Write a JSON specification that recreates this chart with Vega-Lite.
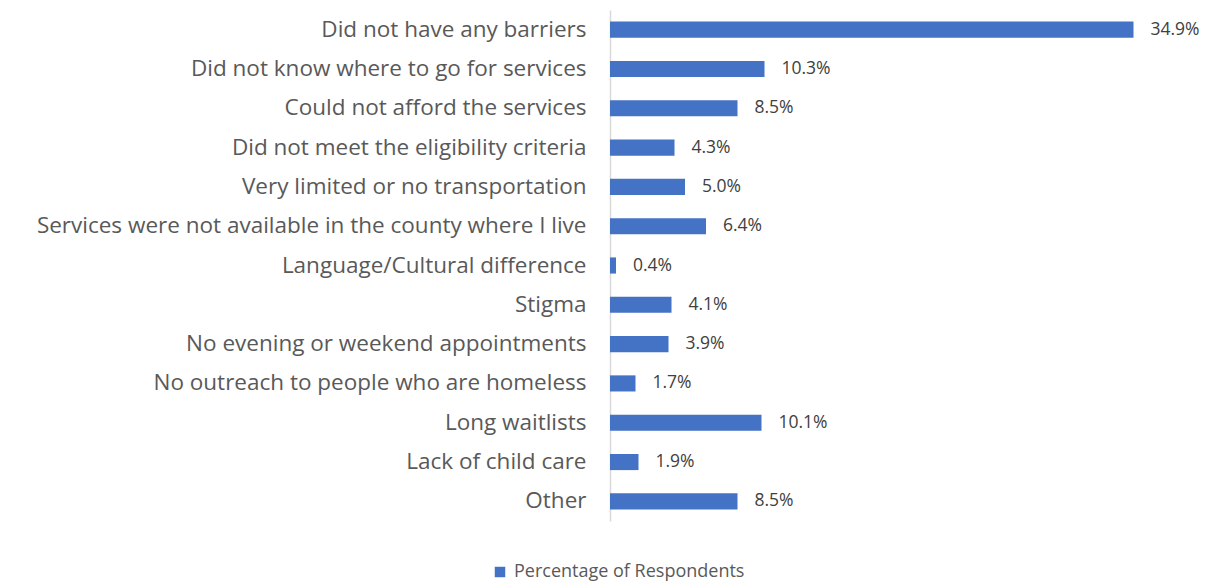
{
  "$schema": "https://vega.github.io/schema/vega-lite/v6.json",
  "width": 600,
  "height": 511,
  "autosize": {"type": "none"},
  "padding": {"left": 610, "top": 10, "right": 2, "bottom": 60},
  "background": "white",
  "config": {"view": {"stroke": null}, "font": "Open Sans"},
  "data": {
    "values": [
      {"barrier": "Did not have any barriers", "pct": 34.9},
      {"barrier": "Did not know where to go for services", "pct": 10.3},
      {"barrier": "Could not afford the services", "pct": 8.5},
      {"barrier": "Did not meet the eligibility criteria", "pct": 4.3},
      {"barrier": "Very limited or no transportation", "pct": 5.0},
      {"barrier": "Services were not available in the county where I live", "pct": 6.4},
      {"barrier": "Language/Cultural difference", "pct": 0.4},
      {"barrier": "Stigma", "pct": 4.1},
      {"barrier": "No evening or weekend appointments", "pct": 3.9},
      {"barrier": "No outreach to people who are homeless", "pct": 1.7},
      {"barrier": "Long waitlists", "pct": 10.1},
      {"barrier": "Lack of child care", "pct": 1.9},
      {"barrier": "Other", "pct": 8.5}
    ]
  },
  "encoding": {
    "y": {
      "field": "barrier",
      "type": "nominal",
      "sort": null,
      "scale": {"paddingInner": 0.59, "paddingOuter": 0.295},
      "axis": {
        "title": null,
        "ticks": false,
        "labelFontSize": 22.5,
        "labelColor": "#595959",
        "labelPadding": 24,
        "labelLimit": 700,
        "domainColor": "#D9D9D9",
        "domainWidth": 1.5
      }
    },
    "x": {
      "field": "pct",
      "type": "quantitative",
      "scale": {"domain": [0, 40]},
      "axis": null
    }
  },
  "layer": [
    {
      "mark": {"type": "bar", "color": "#4472C4"},
      "encoding": {
        "color": {
          "datum": "Percentage of Respondents",
          "type": "nominal",
          "scale": {"range": ["#4472C4"]},
          "legend": {
            "title": null,
            "orient": "none",
            "legendX": -119,
            "legendY": 553,
            "symbolType": "square",
            "symbolSize": 110,
            "symbolStrokeWidth": 0,
            "labelFontSize": 18,
            "labelColor": "#595959",
            "labelOffset": 5,
            "labelLimit": 500
          }
        }
      }
    },
    {
      "transform": [{"calculate": "format(datum.pct, '.1f') + '%'", "as": "label"}],
      "mark": {"type": "text", "align": "left", "dx": 17, "fontSize": 17.5, "color": "#404040"},
      "encoding": {
        "text": {"field": "label", "type": "nominal"}
      }
    }
  ]
}
